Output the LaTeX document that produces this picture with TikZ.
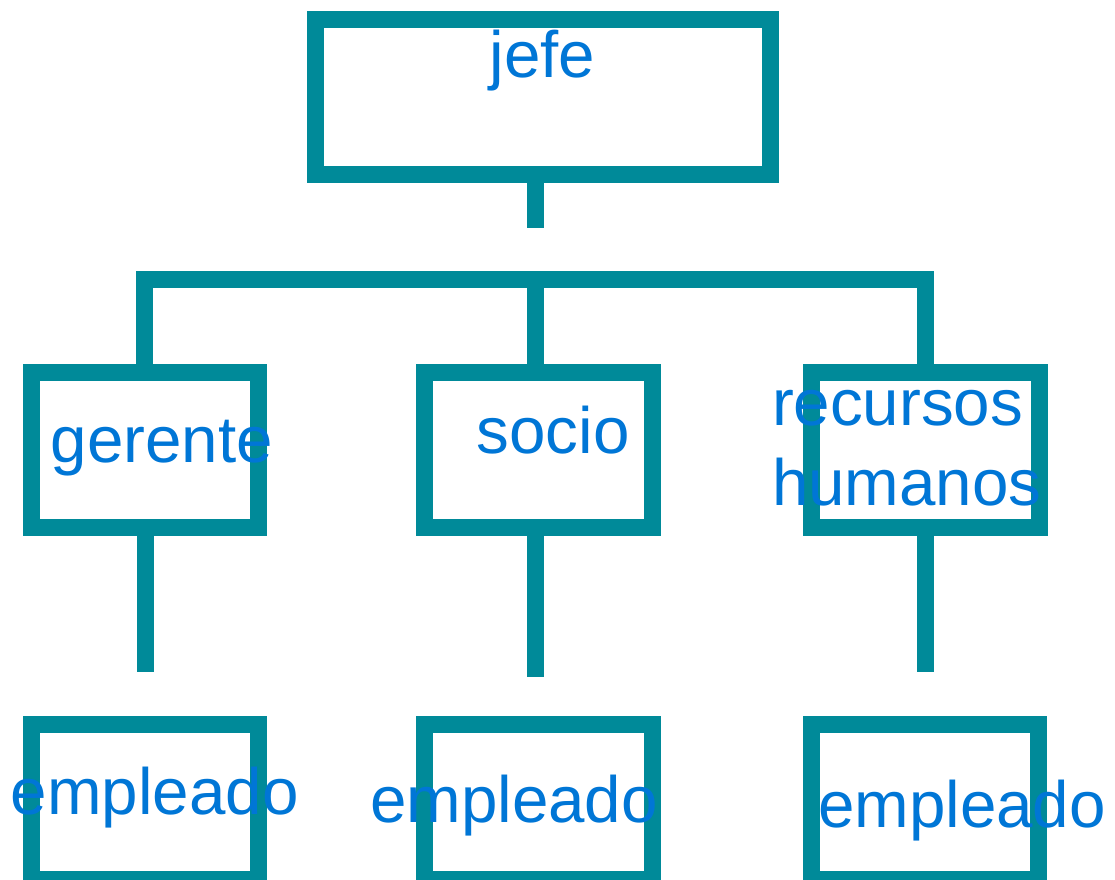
\documentclass[tikz,border=0pt]{standalone}
\usepackage{fontspec}
\setmainfont{Liberation Sans}
\definecolor{teal1}{RGB}{0,138,153}
\definecolor{txtblue}{RGB}{0,118,214}
\begin{document}
\begin{tikzpicture}[x=1pt,y=-1pt,
  box/.style={draw=teal1,line width=17pt,minimum width=227.5pt,minimum height=155pt,inner sep=0pt,outer sep=0pt},
  link/.style={draw=teal1,line width=17pt},
  lbl/.style={text=txtblue,font=\fontsize{65.5}{79.3}\selectfont,inner sep=0pt,outer sep=0pt}]
\useasboundingbox (0,0) rectangle (1115,879);
\clip (0,0) rectangle (1115,879);
\node[box,minimum width=455pt] (jefe) at (543,97) {};
\node[box] (gerente) at (144.75,450) {};
\node[box] (socio) at (538.25,450) {};
\node[box] (rrhh) at (925.25,450) {};
\node[box] (emp1) at (145,802) {};
\node[box] (emp2) at (538.5,802) {};
\node[box] (emp3) at (925,802) {};
\coordinate (stub) at (535,227.7);
\coordinate (hub) at (535,279);
\coordinate (endL) at (145,671.7);
\coordinate (endM) at (535,677);
\coordinate (endR) at (925,671.7);
\draw[link] (stub |- jefe.south) -- (stub);
\draw[link] (gerente.north) |- (hub) -| (rrhh.north);
\draw[link] (hub) -- (hub |- socio.north);
\draw[link] (endL |- gerente.south) -- (endL);
\draw[link] (endM |- socio.south) -- (endM);
\draw[link] (endR |- rrhh.south) -- (endR);
\node[lbl,anchor=base] (tjefe) at (542.5,77) {jefe};
\node[lbl,anchor=base] (tger) at (162,462) {gerente};
\node[lbl,anchor=base] (tsoc) at (553,453.5) {socio};
\node[lbl,anchor=base west,align=left] (trh) at (772,505) {recursos\\humanos};
\node[lbl,anchor=base] (te1) at (154.7,814) {empleado};
\node[lbl,anchor=base] (te2) at (514,822) {empleado};
\node[lbl,anchor=base] (te3) at (962,827) {empleado};
\end{tikzpicture}
\end{document}
